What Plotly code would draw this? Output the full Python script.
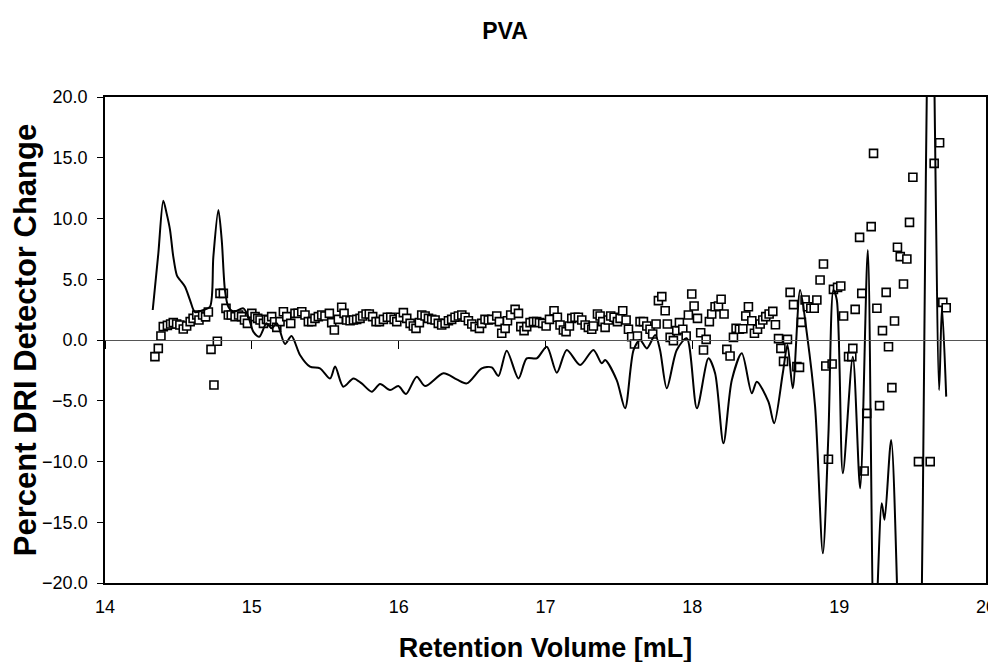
import plotly.graph_objects as go

# ---- DRI detector trace (smoothed line) ----
line_x = [14.325, 14.363, 14.397, 14.42, 14.443, 14.465, 14.49, 14.511, 14.545, 14.579,
          14.613, 14.67, 14.715, 14.738, 14.772, 14.795, 14.817, 14.84, 14.874, 14.942,
          14.976, 15.01, 15.051, 15.1, 15.135, 15.17, 15.226, 15.27, 15.328, 15.396,
          15.464, 15.533, 15.567, 15.623, 15.692, 15.748, 15.817, 15.873, 15.941, 15.998,
          16.05, 16.123, 16.18, 16.305, 16.395, 16.464, 16.566, 16.634, 16.679, 16.736,
          16.816, 16.872, 16.94, 17.009, 17.077, 17.145, 17.236, 17.326, 17.383, 17.406,
          17.485, 17.542, 17.6, 17.644, 17.69, 17.747, 17.78, 17.826, 17.894, 17.962,
          18.031, 18.11, 18.155, 18.212, 18.269, 18.337, 18.405, 18.439, 18.518, 18.557,
          18.616, 18.648, 18.684, 18.734, 18.78, 18.836, 18.889, 18.927, 18.961, 18.984,
          19.025, 19.093, 19.143, 19.195, 19.24, 19.29, 19.309, 19.354, 19.42, 19.48,
          19.53, 19.555, 19.58, 19.605, 19.625, 19.681, 19.7, 19.729]
line_y = [2.47, 7.1, 11.47, 10.4, 9.05, 6.86, 5.3, 4.94, 4.39, 3.29,
          2.3, 2.47, 2.74, 6.86, 10.7, 8.23, 4.1, 2.74, 2.33, 2.6,
          1.92, 0.69, 0.27, 1.37, 0.96, 1.37, -0.33, 0.33, -1.23, -2.19,
          -2.33, -3.16, -2.19, -3.84, -3.16, -3.57, -4.25, -3.62, -4.12, -3.79,
          -4.44, -3.02, -3.79, -2.74, -3.24, -3.57, -2.33, -2.25, -2.96, -0.88,
          -3.16, -1.51, -1.51, -0.55, -2.69, -0.82, -2.06, -0.82, -1.92, -1.65,
          -3.3, -5.62, -0.82, 0.0, -0.69, 0.41, -0.82, -3.98, -0.82, 0.14,
          -5.62, -1.51, -2.74, -8.5, -3.29, -1.1, -4.39, -3.43, -5.08, -6.86,
          -2.74, -0.41, -3.98, 4.12, 0.55, -5.49, -17.56, -7.68, 4.12, 3.29,
          -10.97, -1.37, -12.2, 7.4, -26.0, -13.44, -14.8, -8.23, -30.0, -42.0,
          -40.0, -29.0, 0.0, 29.0, 38.0, -4.12, 2.74, -4.66]

# ---- open-square points ----
pts_x = [14.34, 14.363, 14.381, 14.397, 14.425, 14.447, 14.465, 14.488, 14.51, 14.533,
         14.556, 14.58, 14.6, 14.625, 14.64, 14.665, 14.685, 14.704, 14.722, 14.742,
         14.765, 14.783, 14.806, 14.824, 14.84, 14.86, 14.886, 14.91, 14.93, 14.95,
         14.97, 15.0, 15.022, 15.04, 15.056, 15.079, 15.1, 15.113, 15.135, 15.155,
         15.17, 15.192, 15.215, 15.238, 15.265, 15.294, 15.315,
         15.34, 15.362, 15.385, 15.408, 15.43, 15.453, 15.476, 15.498, 15.528, 15.544,
         15.562, 15.589, 15.612, 15.628, 15.646, 15.669, 15.692, 15.714, 15.737, 15.755,
         15.778, 15.8, 15.823, 15.846, 15.869, 15.896, 15.923, 15.946, 15.969, 15.987,
         16.01, 16.032, 16.055, 16.078, 16.1, 16.118, 16.141, 16.157, 16.18, 16.203,
         16.225, 16.248, 16.27, 16.293, 16.316, 16.339, 16.361, 16.384, 16.407, 16.43,
         16.452, 16.475, 16.498, 16.52, 16.55, 16.566, 16.588, 16.611, 16.634, 16.668,
         16.686, 16.702, 16.725, 16.741, 16.763, 16.793, 16.816, 16.832, 16.854, 16.872,
         16.895, 16.918, 16.94, 16.959, 16.981, 17.004, 17.027,
         17.058, 17.081, 17.099, 17.122, 17.14, 17.163, 17.179, 17.201, 17.224, 17.247,
         17.27, 17.292, 17.315, 17.326, 17.354, 17.372, 17.39, 17.406, 17.428, 17.444,
         17.467, 17.49, 17.508, 17.526, 17.549, 17.565, 17.587, 17.606, 17.626, 17.644,
         17.667, 17.69, 17.712, 17.73, 17.753, 17.769, 17.792, 17.815, 17.83, 17.849,
         17.871, 17.894, 17.912, 17.935, 17.958, 17.973, 17.996, 18.012, 18.035, 18.057,
         18.076, 18.094, 18.116, 18.132,
         18.155, 18.178, 18.196, 18.216, 18.235, 18.257, 18.28, 18.298, 18.321, 18.344,
         18.364, 18.382, 18.405, 18.423, 18.444, 18.462, 18.48, 18.5, 18.523, 18.548,
         18.566, 18.587, 18.603, 18.621, 18.648, 18.666, 18.689, 18.712, 18.73, 18.743,
         18.768, 18.784, 18.807, 18.83, 18.848, 18.87, 18.893, 18.909, 18.927, 18.952,
         18.961, 18.989, 19.011,
         19.03, 19.064, 19.086, 19.093, 19.109, 19.139, 19.154, 19.17, 19.188, 19.218,
         19.234, 19.257, 19.275, 19.295, 19.32, 19.336, 19.359, 19.377, 19.397, 19.416,
         19.438, 19.461, 19.479, 19.502, 19.54, 19.62, 19.647, 19.684, 19.706, 19.729]
pts_y = [-1.37, -0.69, 0.33, 1.1, 1.2, 1.32, 1.43, 1.32, 1.23, 0.9,
         1.15, 1.51, 1.78, 2.06, 1.65, 2.06, 1.9, 2.3, -0.77, -3.7,
         -0.1, 3.84, 3.84, 2.6, 2.06, 2.06, 1.92, 2.06, 1.92, 1.65,
         1.37, 2.19, 1.92, 1.78, 1.65, 1.37, 1.7, 1.65, 1.92, 1.5,
         1.04, 1.51, 2.33, 1.92, 1.37, 2.19, 2.2,
         2.33, 2.06, 1.51, 1.51, 1.78, 1.92, 2.06, 1.98, 2.19, 1.43,
         0.82, 1.7, 2.69, 2.19, 1.65, 1.59, 1.65, 1.7, 1.78, 1.98,
         2.14, 2.14, 1.92, 1.51, 1.51, 1.7, 1.87, 1.87, 1.7, 1.51,
         1.87, 2.25, 1.78, 1.37, 1.15, 0.96, 1.43, 2.06, 1.98, 1.78,
         1.7, 1.65, 1.37, 1.23, 1.37, 1.59, 1.7, 1.87, 1.98, 2.06,
         1.87, 1.59, 1.32, 1.1, 0.96, 1.37, 1.7, 1.65, 1.7, 1.98,
         1.51, 0.55, 0.96, 1.59, 2.06, 2.52, 2.19, 1.1, 0.77, 1.1,
         1.43, 1.51, 1.51, 1.43, 1.37, 1.15, 1.7,
         2.41, 1.87, 1.23, 0.82, 0.69, 1.15, 1.78, 1.87, 1.87, 1.65,
         1.23, 1.04, 0.88, 1.15, 2.14, 1.98, 1.51, 1.04, 1.65, 1.98,
         1.87, 1.51, 1.78, 2.41, 1.65, 0.88, 0.27, -0.33, 0.33, 1.51,
         1.51, 1.15, 0.88, 0.49, 1.32, 3.24, 3.57, 2.41, 1.32, 0.22,
         -0.05, 0.77, 1.43, 0.88, 0.33, 2.06, 3.79, 2.8, 1.78, 0.6,
         -0.82, 0.05, 1.51, 2.14,
         2.74, 2.8, 3.35, 2.14, -0.77, -1.32, 0.22, 0.96, 0.88, 0.93,
         1.98, 2.74, 1.59, 0.55, 0.88, 1.32, 1.65, 1.92, 2.14, 2.36,
         1.26, 0.11, -0.69, -1.76, 0.05, 3.92, 2.91, -2.19, -2.25, 1.45,
         3.29, 2.74, 2.61, 2.61, 3.29, 4.94, 6.26, -2.14, -9.82, -1.98,
         4.17, 4.33, 4.44,
         1.98, -1.37, -1.37, -0.69, 2.52, 8.45, 3.84, -10.78, -6.04, 9.33,
         15.36, 2.61, -5.4, 0.77, 3.92, -0.55, -3.92, 1.56, 7.63, 6.86,
         4.61, 6.67, 9.68, 13.39, -10.01, -10.01, 14.54, 16.24, 3.1, 2.66]

x_ticks = [14, 15, 16, 17, 18, 19, 20]
y_ticks = [20, 15, 10, 5, 0, -5, -10, -15, -20]

FONT = "Liberation Sans, Arial, sans-serif"
OFF = 8          # the page body adds an 8 px margin around the plot div
W, H = 996 + OFF, 662

fig = go.Figure()
fig.add_trace(go.Scatter(
    x=line_x, y=line_y, mode="lines", xaxis="x2", yaxis="y",
    line=dict(color="black", width=2, shape="spline", smoothing=0.8),
    showlegend=False, hoverinfo="skip"))
fig.add_trace(go.Scatter(
    x=pts_x, y=pts_y, mode="markers",
    marker=dict(symbol="square", size=8, color="white",
                line=dict(color="black", width=1.6)),
    showlegend=False))

fig.update_layout(
    width=W, height=H,
    margin=dict(l=105 - OFF, r=W - (986 - OFF), t=97 - OFF, b=H - (583 - OFF),
                autoexpand=False),
    paper_bgcolor="white", plot_bgcolor="white",
    font=dict(family=FONT, color="black"),
    title=dict(text="<b>PVA</b>", x=(505 - OFF) / W, xref="container",
               xanchor="center",
               y=1 - (31 - OFF) / H, yref="container", yanchor="middle",
               font=dict(size=23, family=FONT, color="black")),
    xaxis=dict(range=[14, 20], tickvals=x_ticks, ticktext=[str(v) for v in x_ticks],
               automargin=False,
               showgrid=False, zeroline=False, showline=True, mirror=True,
               linecolor="black", linewidth=1.5, ticks="",
               ticklabelstandoff=7,
               tickfont=dict(size=18, family=FONT, color="black"),
               title=dict(text="<b>Retention Volume [mL]</b>", standoff=22,
                          font=dict(size=27, family=FONT, color="black"))),
    xaxis2=dict(range=[14, 20], overlaying="x", anchor="free", position=0.5,
                automargin=False, side="bottom",
                tickvals=x_ticks, showticklabels=False, ticks="outside",
                ticklen=8, tickwidth=1.2, tickcolor="black",
                showgrid=False, zeroline=False,
                showline=True, linecolor="#555", linewidth=1),
    yaxis=dict(range=[-20, 20], tickvals=y_ticks, tickformat=".1f",
               automargin=False,
               showgrid=False, zeroline=False,
               showline=True, mirror=True, linecolor="black", linewidth=1.5,
               ticks="outside", ticklen=6, tickcolor="black", tickwidth=1,
               ticklabelstandoff=6,
               tickfont=dict(size=18, family=FONT, color="black"),
               title=dict(text="<b>Percent DRI Detector Change</b>", standoff=14,
                          font=dict(size=31, family=FONT, color="black"))),
)

fig.write_html("out.html", config={"displayModeBar": False})
